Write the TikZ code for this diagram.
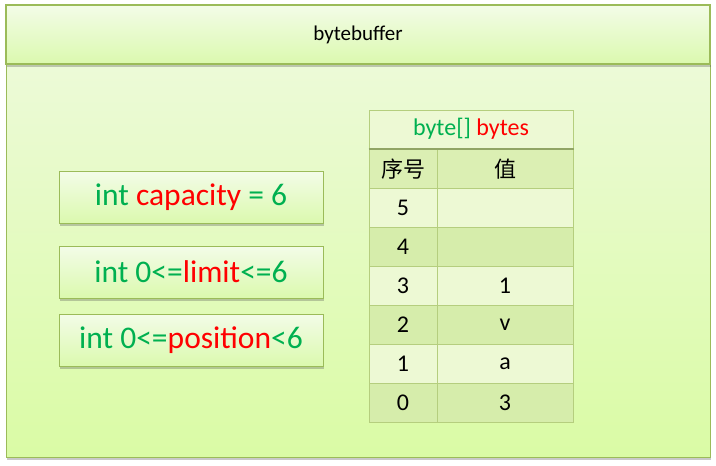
\documentclass[tikz,border=0pt]{standalone}
\usepackage{fontspec}
\setmainfont{Carlito}
\newfontfamily\cjkfont{Noto Sans CJK SC}
\usepackage{xcolor}
\usetikzlibrary{shadows}

\definecolor{frameline}{HTML}{9BBB59}
\definecolor{txtgreen}{HTML}{00B050}
\definecolor{txtred}{HTML}{FF0000}
\definecolor{bgtop}{HTML}{EFFADF}
\definecolor{bgbottom}{HTML}{DAFBA5}
\definecolor{headtop}{HTML}{F3FCE8}
\definecolor{headbottom}{HTML}{DBF9AE}
\definecolor{rowlight}{HTML}{EDF9D4}
\definecolor{rowdark}{HTML}{D6EDAB}
\definecolor{gridline}{HTML}{B5CE7E}

\tikzset{
  shadowed/.style={drop shadow={shadow xshift=1pt,shadow yshift=-2.5pt,opacity=0.3,fill=black!70}},
  varbox/.style={draw=frameline,line width=0.8pt,top color=headtop,bottom color=headbottom,
    minimum width=264pt,minimum height=52pt,inner sep=0pt,shadowed,
    text=txtgreen,font=\fontsize{31.5}{36}\selectfont},
  cell/.style={draw=gridline,line width=1pt,inner sep=0pt,minimum height=39pt,
    font=\fontsize{24}{28}\selectfont},
}

\begin{document}
\begin{tikzpicture}[x=1pt,y=-1pt]
	\useasboundingbox (0,0) rectangle (716,466);
	% outer panel and title bar
	\node[draw=frameline,line width=1pt,top color=bgtop,bottom color=bgbottom,shadowed,
		minimum width=704pt,minimum height=452pt,inner sep=0pt] (buffer) at (358,231) {};
	\node[draw=frameline,line width=1.2pt,top color=headtop,bottom color=headbottom,shadowed,
		minimum width=704pt,minimum height=59pt,inner sep=0pt,font=\fontsize{21}{25}\selectfont] (title) at (358,34.5) {bytebuffer};

	% fields
	\node[varbox] (capacity) at (191,197) {int {\color{txtred}capacity} = 6};
	\node[varbox] (limit) at (191,272) {int 0<={\color{txtred}limit}<=6};
	\node[varbox] (position) at (191,340) {int 0<={\color{txtred}position}<6};

	% array table
	\node[cell,minimum width=204pt,fill=rowlight,minimum height=38pt] (bytes) at (471,129)
		{{\color{txtgreen}byte[]} {\color{txtred}bytes}};
	\node[cell,minimum width=68pt,fill=rowdark!80!rowlight,font=\fontsize{22}{26}\selectfont] (idxhead) at (403,169) {\cjkfont 序号};
	\node[cell,minimum width=136pt,fill=rowdark!80!rowlight,font=\fontsize{22}{26}\selectfont] (valhead) at (505,169) {\cjkfont 值};
	\draw[gridline!80!black,line width=2pt] (bytes.south west) -- (bytes.south east);
	\foreach \idx/\val/\shade [count=\r] in {5//rowlight,4//rowdark,3/1/rowlight,2/v/rowdark,1/a/rowlight,0/3/rowdark}{
		\node[cell,minimum width=68pt,fill=\shade] (idx\idx) at (403,{168.5+39*\r}) {\idx};
		\node[cell,minimum width=136pt,fill=\shade] (val\idx) at (505,{168.5+39*\r}) {\val};
	}
\end{tikzpicture}
\end{document}
